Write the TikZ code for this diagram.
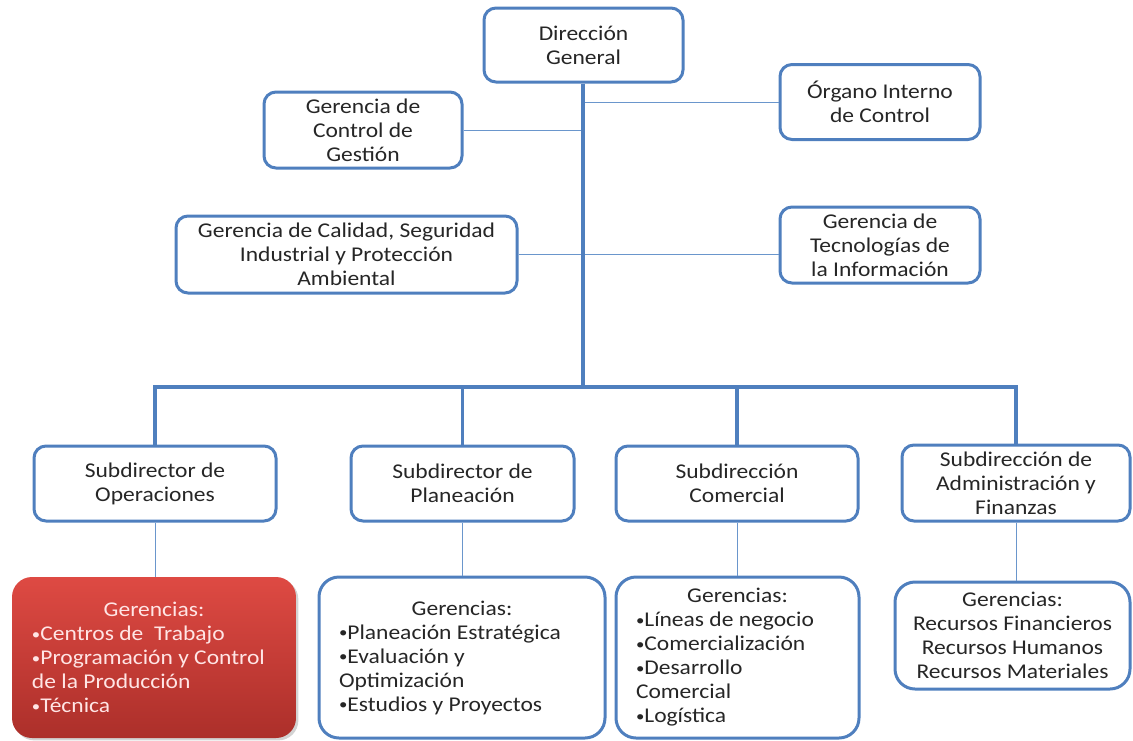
\documentclass[tikz,border=0pt]{standalone}
\usepackage{fontspec}
\setmainfont{Carlito}[FakeStretch=1.12]
\usetikzlibrary{positioning,shadows,calc}
\definecolor{boxblue}{HTML}{4F7FBE}
\definecolor{linkblue}{HTML}{6A96CC}
\definecolor{txtgray}{HTML}{262626}
\definecolor{redtop}{HTML}{DE4A43}
\definecolor{redbot}{HTML}{AC2F2A}
\newcommand{\gtitle}{\hbox to \hsize{\hfil Gerencias:\hfil}}
\newcommand{\bul}{\raisebox{0.12ex}{\fontsize{15}{15}\selectfont•}}
\tikzset{
  box/.style={draw=boxblue, line width=3pt, rounded corners=12pt, fill=white,
    align=center, text=txtgray, inner sep=2pt},
  redbox/.style={draw=none, rounded corners=20pt, top color=redtop,
    bottom color=redbot, drop shadow={opacity=0.35}, text=white!90!red},
  thin/.style={draw=linkblue, line width=1pt},
  thick/.style={draw=boxblue, line width=3.5pt}
}
\begin{document}
\begin{tikzpicture}[x=1pt,y=-1pt,font=\fontsize{21}{24}\selectfont]
        \useasboundingbox (0,0) rectangle (1133,740);
        %top
        \node[box, minimum width=199pt, minimum height=74pt] (dg) at (583.5,45) {Dirección\\General};
        \node[box, minimum width=200pt, minimum height=75pt] (oic) at (880,102) {Órgano Interno\\de Control};
        \node[box, minimum width=198pt, minimum height=76pt] (gcg) at (363,130) {Gerencia de\\Control de\\Gestión};
        \node[box, minimum width=341pt, minimum height=77pt] (gcal) at (346.5,254.5) {Gerencia de Calidad, Seguridad\\Industrial y Protección\\Ambiental};
        \node[box, minimum width=200pt, minimum height=76pt] (gti) at (880,245) {Gerencia de\\Tecnologías de\\la Información};
        %subdirecciones
        \node[box, minimum width=242pt, minimum height=75pt] (sop) at (155,483.5) {Subdirector de\\Operaciones};
        \node[box, minimum width=223pt, minimum height=75pt] (spl) at (462.5,483.5) {Subdirector de\\Planeación};
        \node[box, minimum width=242pt, minimum height=75pt] (sco) at (737,483.5) {Subdirección\\Comercial};
        \node[box, minimum width=228pt, minimum height=76pt] (saf) at (1016,483) {Subdirección de\\Administración y\\Finanzas};
        %gerencias
        \node[redbox, minimum width=284pt, minimum height=161pt, text width=244pt, align=flush left] (gop) at (154,657.5)
          {\gtitle\\\bul Centros de~ Trabajo\\\bul Programación y Control\\de la Producción\\\bul Técnica};
        \node[box, rounded corners=20pt, minimum width=286pt, minimum height=161pt, text width=246pt, align=flush left] (gpl) at (462,657.5)
          {\gtitle\\\bul Planeación Estratégica\\\bul Evaluación y\\Optimización\\\bul Estudios y Proyectos};
        \node[box, rounded corners=20pt, minimum width=243pt, minimum height=161pt, text width=203pt, align=flush left] (gco) at (737.5,657.5)
          {\gtitle\\\bul Líneas de negocio\\\bul Comercialización\\\bul Desarrollo\\Comercial\\\bul Logística};
        \node[box, rounded corners=20pt, minimum width=235pt, minimum height=107pt] (gaf) at (1012.5,635.5)
          {Gerencias:\\Recursos Financieros\\Recursos Humanos\\Recursos Materiales};
        %edges
        \coordinate (bus) at (583,387);
        \path[thin] (gcg.east) -- (gcg.east -| bus);
        \path[thin] (oic.west) -- (oic.west -| bus);
        \path[thin] (gcal.east) -- (gcal.east -| bus);
        \path[thin] (gti.west |- gcal.east) -- (gcal.east -| bus);
        \path[thick] (dg.south -| bus) -- (bus);
        \path[thick] (sop.north) -- (sop.north |- bus) -- (saf.north |- bus) -- (saf.north);
        \path[thick] (spl.north) -- (spl.north |- bus);
        \path[thick] (sco.north) -- (sco.north |- bus);
        \path[thin] (sop.south) -- (sop.south |- gop.north);
        \path[thin] (spl.south) -- (spl.south |- gpl.north);
        \path[thin] (sco.south) -- (sco.south |- gco.north);
        \path[thin] (saf.south) -- (saf.south |- gaf.north);
      \end{tikzpicture}
\end{document}
